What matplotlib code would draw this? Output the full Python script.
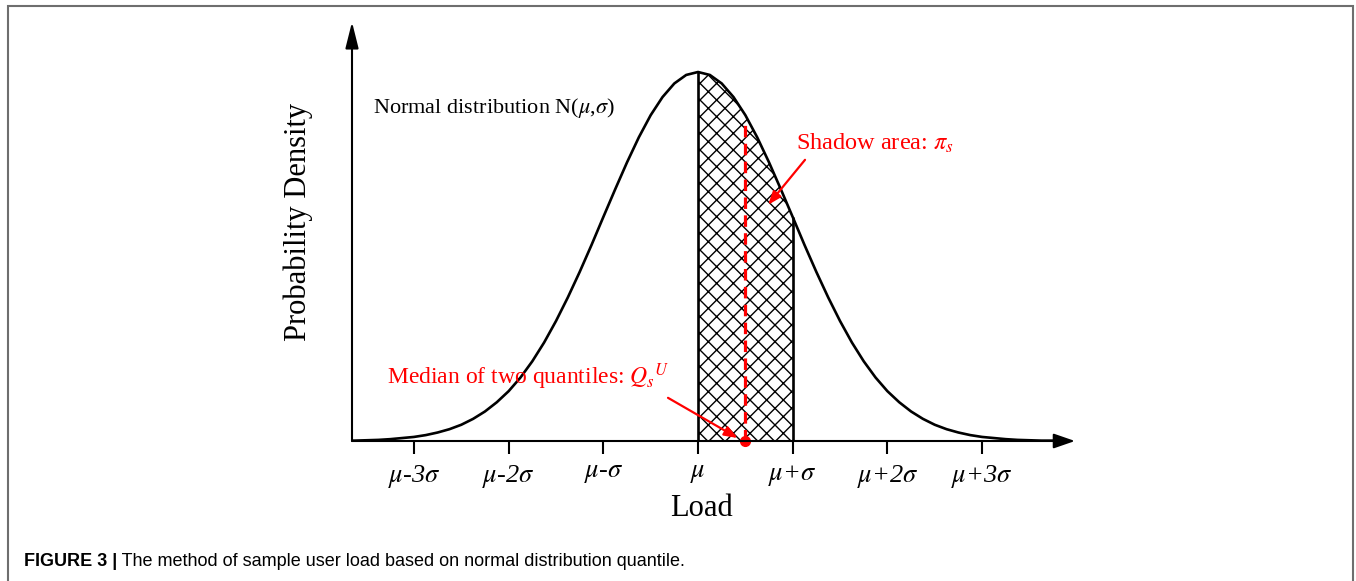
import numpy as np
import matplotlib
matplotlib.use('Agg')
import matplotlib.pyplot as plt
from matplotlib.patches import Rectangle

# Datos (x en unidades de sigma, cada 0.125; densidad relativa al pico)
x_sigma = np.arange(-3.75, 3.876, 0.125)
densidad = [0.001, 0.001, 0.002, 0.003, 0.005, 0.008, 0.011, 0.016, 0.023, 0.032, 0.044,
            0.060, 0.080, 0.105, 0.135, 0.172, 0.216, 0.267, 0.325, 0.389, 0.458, 0.531,
            0.607, 0.682, 0.755, 0.823, 0.883, 0.932, 0.969, 0.992, 1.000, 0.992, 0.969,
            0.932, 0.883, 0.823, 0.755, 0.682, 0.607, 0.531, 0.458, 0.389, 0.325, 0.267,
            0.216, 0.172, 0.135, 0.105, 0.080, 0.060, 0.044, 0.032, 0.023, 0.016, 0.011,
            0.008, 0.005, 0.003, 0.002, 0.001, 0.001, 0.0005]
ticks = [-3, -2, -1, 0, 1, 2, 3]
tick_labels = [r'$\mu$-3$\sigma$', r'$\mu$-2$\sigma$', r'$\mu$-$\sigma$', r'$\mu$',
               r'$\mu$+$\sigma$', r'$\mu$+2$\sigma$', r'$\mu$+3$\sigma$']
zona_ini, zona_fin = 0.0, 1.0      # area sombreada: de mu a mu+sigma
mediana = 0.5                      # mediana de los dos cuantiles
mediana_alto = 0.87

plt.rcParams['font.family'] = ['Liberation Serif', 'DejaVu Serif']
plt.rcParams['mathtext.fontset'] = 'stix'
plt.rcParams['hatch.linewidth'] = 1.0

fig = plt.figure(figsize=(13.56, 5.81), dpi=100)
ax = fig.add_axes([352 / 1356, 1 - 441 / 581, (1075 - 352) / 1356, (441 - 22) / 581])
ax.set_xlim(-3.654, 3.981)
ax.set_ylim(0, 1.1355)

x = np.round(x_sigma, 3)
y = np.array(densidad)
ax.plot(x, y, color='black', lw=1.9, solid_joinstyle='round', zorder=3)

# zona sombreada
m = (x >= zona_ini) & (x <= zona_fin)
ax.fill_between(x[m], 0, y[m], facecolor='white', edgecolor='black', hatch='xx', lw=0, zorder=2)
ax.vlines([zona_ini, zona_fin], 0, [y[x == zona_ini][0], y[x == zona_fin][0]],
          color='black', lw=1.9, zorder=3)

# linea de la mediana
ax.vlines(mediana, 0, mediana_alto, color='red', lw=2.3, linestyles=(0, (3.6, 2.0)), zorder=4)
ax.plot([mediana], [0], 'o', color='red', ms=7, zorder=5, clip_on=False)

# ejes con flechas
for s in ax.spines.values():
    s.set_visible(False)
ax.annotate('', xy=(1, 0), xytext=(0, 0), xycoords='axes fraction',
            arrowprops=dict(arrowstyle='-|>,head_length=1.3,head_width=0.45', color='black',
                            lw=1.5, shrinkA=0, shrinkB=0), zorder=6)
ax.annotate('', xy=(0, 1), xytext=(0, 0), xycoords='axes fraction',
            arrowprops=dict(arrowstyle='-|>,head_length=1.6,head_width=0.4', color='black',
                            lw=1.5, shrinkA=0, shrinkB=0), zorder=6)

ax.set_xticks(ticks)
ax.set_xticklabels(tick_labels, fontsize=19, style='italic')
ax.tick_params(axis='x', direction='out', length=9, width=1.5, pad=7)
ax.set_yticks([])
ax.set_xlabel('Load', fontsize=22, labelpad=3, x=0.483)
ax.set_ylabel('Probability Density', fontsize=22, labelpad=28, y=0.523)

# textos
ax.text(-3.43, 0.889, r'Normal distribution N($\mu$,$\sigma$)', fontsize=16, va='baseline')
ax.text(1.035, 0.789, r'Shadow area: $\pi_s$', fontsize=17.5, color='red', va='baseline')
ax.annotate('', xy=(0.74, 0.64), xytext=(1.13, 0.762),
            arrowprops=dict(arrowstyle='-|>,head_length=0.8,head_width=0.3', color='red',
                            lw=1.6, shrinkA=0, shrinkB=0))
ax.text(-3.284, 0.1545, r'Median of two quantiles: ${Q_s}^{U}$', fontsize=17, color='red',
        va='baseline')
ax.annotate('', xy=(0.42, 0.008), xytext=(-0.317, 0.117),
            arrowprops=dict(arrowstyle='-|>,head_length=0.8,head_width=0.3', color='red',
                            lw=1.6, shrinkA=0, shrinkB=0))

# marco y pie de figura
fig.patches.append(Rectangle((8 / 1356, -0.1), (1353 - 8) / 1356, 1.1 - 6 / 581,
                             transform=fig.transFigure, fill=False, edgecolor='#6e6e6e',
                             lw=1.5, clip_on=False))
t1 = fig.text(24 / 1356, 1 - 562 / 581, 'FIGURE 3 |', fontsize=13, fontweight='bold',
              family='Liberation Sans', va='center')
ax.annotate(' The method of sample user load based on normal distribution quantile.',
            xy=(1, 0.5), xycoords=t1, va='center', fontsize=13, family='Liberation Sans')

fig.savefig('out.png', dpi=100)
